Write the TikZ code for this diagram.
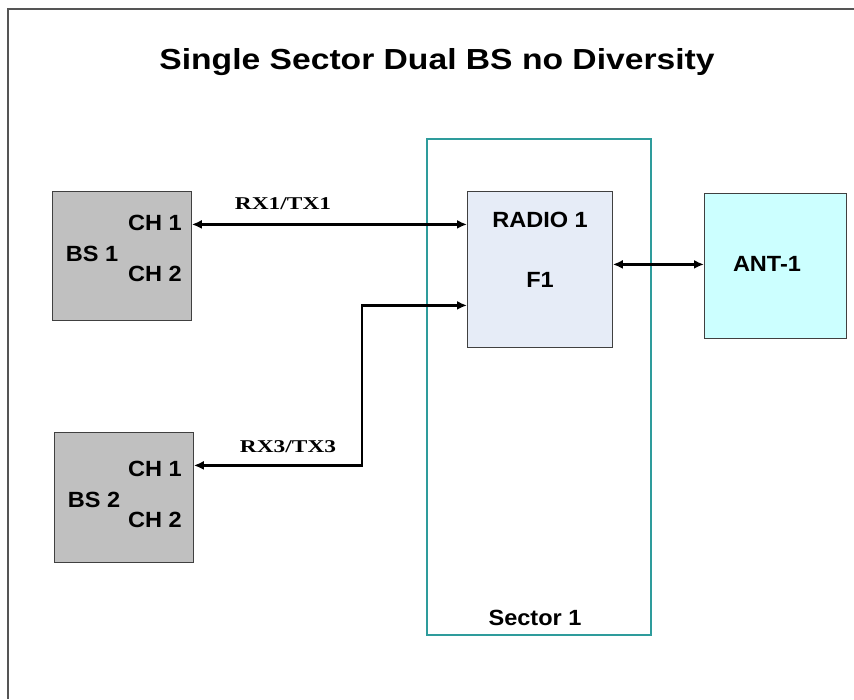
\documentclass[tikz,border=0pt]{standalone}
\usepackage{fontspec}
\usepackage{graphicx}
\setmainfont{Liberation Sans}
\newfontfamily\serifb{Liberation Serif}
\usetikzlibrary{arrows.meta,calc}
\definecolor{bsgray}{HTML}{C0C0C0}
\definecolor{radiofill}{HTML}{E6ECF7}
\definecolor{antfill}{HTML}{CCFFFF}
\definecolor{teal1}{HTML}{2E9C9C}
\definecolor{frame1}{HTML}{555555}
\newcommand\hstretch[2]{\scalebox{#1}[1]{#2}}
\tikzset{
  box/.style={draw=black!75, line width=0.8pt, inner sep=0pt, anchor=north west},
  lbl/.style={font=\bfseries\fontsize{22}{22}\selectfont, inner sep=0pt},
  wire/.style={line width=2.6pt, {Latex[length=10pt,width=9pt]}-{Latex[length=10pt,width=9pt]}},
  wlbl/.style={font=\serifb\bfseries\fontsize{18}{18}\selectfont, inner sep=0pt}
}
\begin{document}
\begin{tikzpicture}[x=1pt,y=-1pt]
\useasboundingbox (0,0) rectangle (854,699);
\fill[white] (0,0) rectangle (854,699);
% outer frame (left and top edges)
\draw[frame1, line width=2pt] (8,699) -- (8,9) -- (854,9);
% title
\node[font=\bfseries\fontsize{29}{29}\selectfont, inner sep=0pt] (title) at (437,62) {\hstretch{1.16}{Single Sector Dual BS no Diversity}};
% sector box
\node[draw=teal1, line width=1.8pt, minimum width=224pt, minimum height=496pt, inner sep=0pt, anchor=north west] (sector) at (426,138) {};
\node[lbl] (seclbl) at (535,618) {\hstretch{1.07}{Sector 1}};
% boxes
\node[box, fill=bsgray, minimum width=139pt, minimum height=129pt] (bs1) at (52,191) {};
\node[box, fill=bsgray, minimum width=139pt, minimum height=130pt] (bs2) at (54,432) {};
\node[box, fill=radiofill, minimum width=145pt, minimum height=156pt] (radio) at (467,191) {};
\node[box, fill=antfill, minimum width=142pt, minimum height=145pt] (ant) at (704,193) {};
% box texts
\node[lbl] (b1c1) at (155,223) {\hstretch{1.07}{CH 1}};
\node[lbl] (b1n) at (92,254) {\hstretch{1.07}{BS 1}};
\node[lbl] (b1c2) at (155,274) {\hstretch{1.07}{CH 2}};
\node[lbl] (b2c1) at (155,469) {\hstretch{1.07}{CH 1}};
\node[lbl] (b2n) at (94,500) {\hstretch{1.07}{BS 2}};
\node[lbl] (b2c2) at (155,520) {\hstretch{1.07}{CH 2}};
\node[lbl] (rad) at (540,220) {\hstretch{1.07}{RADIO 1}};
\node[lbl] (f1) at (540,280) {\hstretch{1.07}{F1}};
\node[lbl] (antl) at (767,264) {\hstretch{1.07}{ANT-1}};
% connectors
\coordinate (p1) at ([yshift=31.5pt]bs1.east);
\draw[wire] (p1) -- (p1 -| radio.west);
\node[wlbl] (rx1) at (283,204) {\hstretch{1.3}{RX1/TX1}};
\coordinate (p2) at ([yshift=32pt]bs2.east);
\coordinate (p3) at ([yshift=-36pt]radio.west);
\coordinate (k) at (362,385);
\draw[wire] (p2) -| (k) |- (p3);
\node[wlbl] (rx3) at (288,447) {\hstretch{1.3}{RX3/TX3}};
\coordinate (p4) at ([yshift=5pt]radio.east);
\draw[wire] (p4) -- (p4 -| ant.west);
\end{tikzpicture}
\end{document}
